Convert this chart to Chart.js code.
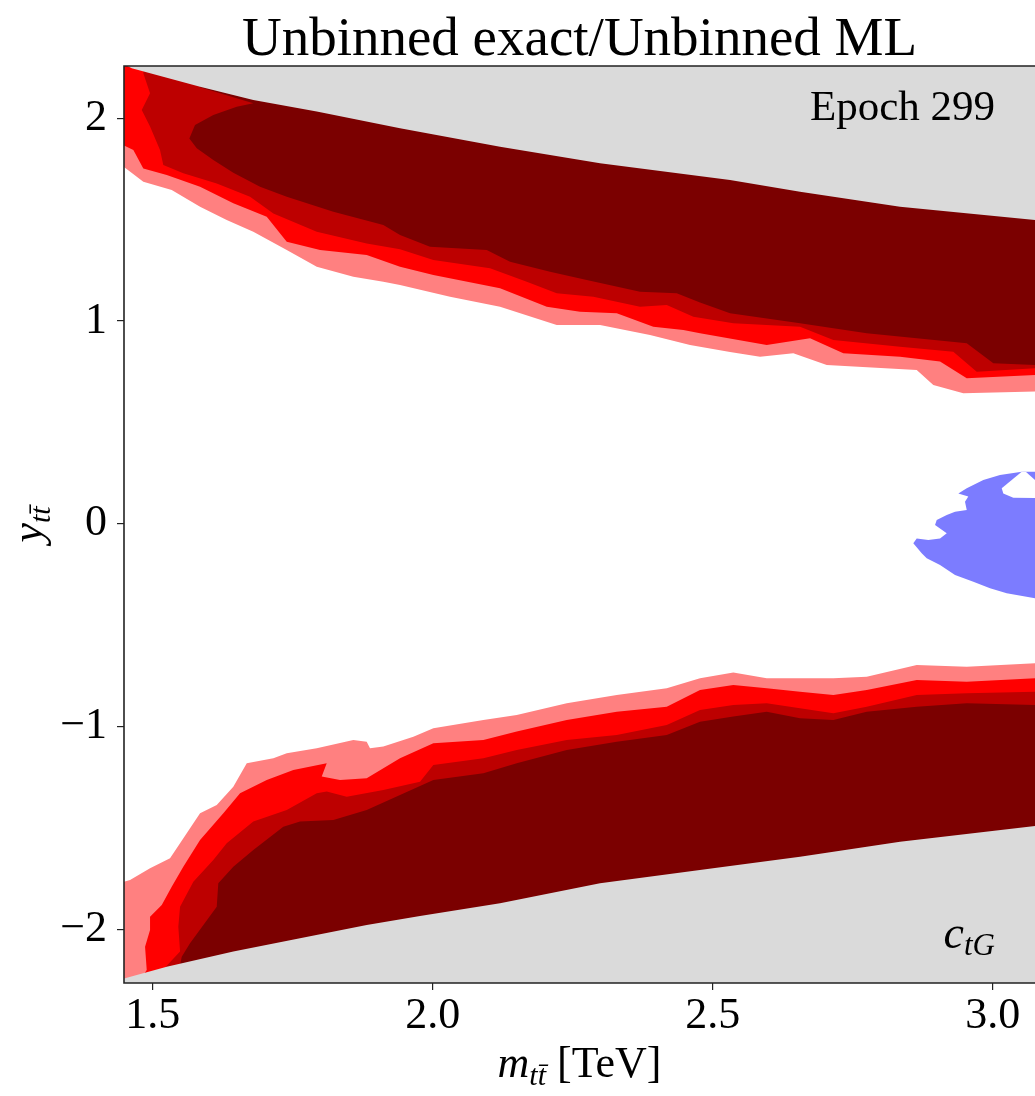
<!DOCTYPE html>
<html>
<head>
<meta charset="utf-8">
<title>Unbinned exact/Unbinned ML</title>
<script src="https://cdn.jsdelivr.net/npm/chart.js@4.4.1/dist/chart.umd.min.js"></script>
<style>
  html, body { margin: 0; padding: 0; background: #fff; overflow: hidden; }
  #wrap { width: 1035px; height: 1096px; }
</style>
</head>
<body>
<div id="wrap"><canvas id="chart" width="1035" height="1096"></canvas></div>
<script>
// axis ticks
const xTicks = [1.5, 2.0, 2.5, 3.0];
const yTicks = [-2, -1, 0, 1, 2];

// kinematic limits (grey outside)
const boundTopX = [1.452, 1.4625, 1.5845, 1.6796, 1.7929, 1.9416, 2.1202, 2.2988, 2.5309, 2.6559, 2.8345, 3.0755];
const boundTopY = [2.262, 2.247, 2.156, 2.090, 2.033, 1.951, 1.860, 1.778, 1.696, 1.638, 1.564, 1.498];
const boundBotX = [1.44, 1.4505, 1.525, 1.6439, 1.763, 1.8821, 1.9773, 2.1202, 2.2988, 2.5309, 2.6559, 2.8345, 3.0755];
const boundBotY = [-2.25, -2.242, -2.185, -2.110, -2.044, -1.979, -1.934, -1.872, -1.773, -1.688, -1.642, -1.568, -1.490];

// upper band: lower edge of each contour level
const pinkTopX = [1.44, 1.4832, 1.5339, 1.5845, 1.6321, 1.6796, 1.7393, 1.7929, 1.8582, 1.9118, 1.9416, 2.0309, 2.1202, 2.2214, 2.2988, 2.3880, 2.4595, 2.5309, 2.5845, 2.6439, 2.7036, 2.8643, 2.8939, 2.9475, 3.0755];
const pinkTopY = [1.778, 1.687, 1.646, 1.564, 1.498, 1.441, 1.350, 1.268, 1.219, 1.194, 1.178, 1.120, 1.071, 0.981, 0.981, 0.931, 0.882, 0.847, 0.824, 0.841, 0.783, 0.759, 0.685, 0.644, 0.652];
const redTopX = [1.44, 1.4654, 1.4832, 1.5250, 1.5845, 1.6439, 1.7036, 1.7393, 1.7988, 1.8821, 1.9416, 2.0011, 2.1202, 2.2036, 2.2630, 2.3286, 2.3939, 2.4475, 2.4773, 2.5964, 2.6738, 2.7332, 2.8345, 2.9059, 2.9536, 3.0755];
const redTopY = [1.877, 1.844, 1.753, 1.720, 1.663, 1.581, 1.515, 1.391, 1.350, 1.326, 1.268, 1.227, 1.162, 1.071, 1.046, 1.038, 0.972, 0.956, 0.940, 0.882, 0.915, 0.841, 0.824, 0.800, 0.718, 0.734];
const medTopX = [1.4832, 1.4952, 1.4804, 1.4952, 1.5130, 1.5189, 1.5546, 1.6143, 1.6738, 1.7154, 1.7929, 1.8821, 1.9416, 2.0011, 2.1023, 2.1679, 2.2214, 2.2868, 2.3702, 2.4179, 2.4654, 2.5368, 2.6559, 2.7154, 2.8345, 2.9296, 2.9714, 3.0755];
const medTopY = [2.222, 2.123, 2.041, 1.959, 1.844, 1.770, 1.729, 1.679, 1.613, 1.531, 1.441, 1.383, 1.354, 1.301, 1.260, 1.194, 1.137, 1.120, 1.071, 1.079, 1.021, 0.989, 0.972, 0.907, 0.873, 0.849, 0.750, 0.767];
const darkTopX = [1.5845, 1.6796, 1.6500, 1.6082, 1.5755, 1.5654, 1.5786, 1.6082, 1.6439, 1.6916, 1.7393, 1.8225, 1.9118, 1.9416, 1.9952, 2.0964, 2.1380, 2.2095, 2.2750, 2.3702, 2.4357, 2.4773, 2.5309, 2.6559, 2.7750, 2.9536, 3.0011, 3.0755];
const darkTopY = [2.153, 2.074, 2.057, 2.016, 1.967, 1.901, 1.852, 1.794, 1.732, 1.663, 1.613, 1.539, 1.474, 1.424, 1.367, 1.350, 1.293, 1.243, 1.202, 1.145, 1.137, 1.091, 1.038, 0.989, 0.940, 0.890, 0.792, 0.783];

// lower band: upper edge of each contour level
const pinkBotX = [1.44, 1.4595, 1.4952, 1.5309, 1.5488, 1.5845, 1.6143, 1.6439, 1.6679, 1.7154, 1.7393, 1.7929, 1.8582, 1.8821, 1.8880, 1.9118, 1.9654, 2.0011, 2.0904, 2.1500, 2.2393, 2.3286, 2.4179, 2.4773, 2.5368, 2.5964, 2.7154, 2.7750, 2.8643, 2.9536, 3.0755];
const pinkBotY = [-1.773, -1.757, -1.699, -1.650, -1.576, -1.428, -1.387, -1.297, -1.181, -1.157, -1.132, -1.107, -1.066, -1.075, -1.107, -1.099, -1.050, -1.009, -0.968, -0.943, -0.885, -0.844, -0.811, -0.762, -0.734, -0.762, -0.762, -0.754, -0.696, -0.705, -0.688];
const redBotX = [1.4714, 1.4893, 1.4863, 1.4952, 1.4952, 1.5161, 1.5339, 1.5546, 1.5845, 1.6261, 1.6559, 1.7036, 1.7511, 1.8107, 1.8018, 1.8345, 1.8821, 1.9416, 2.0011, 2.0904, 2.1500, 2.2393, 2.3286, 2.4179, 2.4773, 2.5368, 2.5964, 2.6559, 2.7154, 2.7750, 2.8643, 2.9536, 3.0755];
const redBotY = [-2.275, -2.201, -2.086, -2.003, -1.938, -1.880, -1.790, -1.691, -1.560, -1.428, -1.329, -1.264, -1.214, -1.181, -1.247, -1.264, -1.255, -1.157, -1.083, -1.066, -1.025, -0.968, -0.927, -0.902, -0.820, -0.795, -0.811, -0.828, -0.844, -0.820, -0.770, -0.779, -0.762];
const medBotX = [1.5130, 1.5237, 1.5488, 1.5457, 1.5488, 1.5725, 1.6082, 1.6321, 1.6796, 1.7393, 1.7929, 1.8107, 1.8464, 1.9118, 1.9773, 2.0011, 2.0904, 2.1500, 2.2393, 2.3286, 2.4179, 2.4773, 2.5368, 2.5964, 2.6559, 2.7154, 2.7750, 2.8643, 2.9536, 3.0755];
const medBotY = [-2.275, -2.184, -2.110, -1.987, -1.889, -1.765, -1.658, -1.576, -1.469, -1.412, -1.329, -1.321, -1.346, -1.313, -1.272, -1.190, -1.157, -1.116, -1.066, -1.042, -0.992, -0.918, -0.894, -0.885, -0.910, -0.935, -0.902, -0.844, -0.836, -0.828];
const darkBotX = [1.5416, 1.5518, 1.5666, 1.6143, 1.6171, 1.6439, 1.6796, 1.7332, 1.7630, 1.8225, 1.8821, 1.9416, 2.0011, 2.0904, 2.1500, 2.2393, 2.3286, 2.4179, 2.4773, 2.5368, 2.5964, 2.6559, 2.7154, 2.7750, 2.8643, 2.9536, 3.0755];
const darkBotY = [-2.275, -2.135, -2.069, -1.889, -1.773, -1.691, -1.609, -1.494, -1.469, -1.461, -1.412, -1.338, -1.264, -1.231, -1.181, -1.116, -1.075, -1.042, -0.976, -0.951, -0.927, -0.959, -0.968, -0.927, -0.902, -0.885, -0.894];

// blue patch around y = 0 and its hole
const blobX = [3.0518, 3.0130, 2.9832, 2.9536, 2.9386, 2.9564, 2.9505, 2.9536, 2.9327, 2.9179, 2.9000, 2.8970, 2.9179, 2.9059, 2.8850, 2.8643, 2.8582, 2.8732, 2.8821, 2.9059, 2.9327, 2.9654, 2.9952, 3.0250, 3.0755];
const blobY = [0.257, 0.241, 0.216, 0.175, 0.150, 0.134, 0.109, 0.068, 0.060, 0.043, 0.019, -0.006, -0.047, -0.072, -0.080, -0.072, -0.096, -0.145, -0.170, -0.203, -0.253, -0.286, -0.318, -0.343, -0.367];
const holeX = [3.0518, 3.0161, 3.0189, 3.0368, 3.10, 3.10, 3.0595];
const holeY = [0.257, 0.175, 0.150, 0.129, 0.126, 0.157, 0.255];
const dotX = [2.8166];
const dotY = [-0.224];

const X_FAR = 3.30, Y_TOP = 2.6, Y_BOT = -2.6;

const SERIF = "'Liberation Serif', 'DejaVu Serif', serif";
const GREY = '#dadada';
const DARK = '#7b0000';
const MED = '#bd0000';
const RED = '#ff0000';
const PINK = '#ff8080';
const BLUE = '#7c7cff';

function pts(xs, ys) {
    return xs.map((x, i) => ({x: x, y: ys[i]}));
}

// edge plus corners above it, closed into a polygon
function closeUp(xs, ys) {
    const p = pts(xs, ys);
    p.push({x: X_FAR, y: ys[ys.length - 1]}, {x: X_FAR, y: Y_TOP}, {x: xs[0], y: Y_TOP});
    return p;
}

// edge plus corners below it
function closeDown(xs, ys) {
    const p = pts(xs, ys);
    p.push({x: X_FAR, y: ys[ys.length - 1]}, {x: X_FAR, y: Y_BOT}, {x: xs[0], y: Y_BOT});
    return p;
}

function region(data, color, order) {
    return {
        data: data,
        showLine: true,
        fill: 'shape',
        backgroundColor: color,
        borderColor: color,
        borderWidth: 0,
        pointRadius: 0,
        order: order
    };
}

const blobPts = pts(blobX, blobY);
blobPts.push({x: X_FAR, y: blobY[blobY.length - 1]}, {x: X_FAR, y: blobY[0]});

// text parts drawn one after the other on the same baseline
function drawParts(ctx, parts, x, y, align) {
    let w = 0;
    parts.forEach(p => { ctx.font = p[1]; w += ctx.measureText(p[0]).width; });
    let cx = align === 'center' ? x - w / 2 : (align === 'right' ? x - w : x);
    parts.forEach(p => {
        ctx.font = p[1];
        ctx.fillText(p[0], cx, y + (p[2] || 0));
        cx += ctx.measureText(p[0]).width;
    });
}

const textPlugin = {
    id: 'texts',
    afterDraw(chart) {
        const ctx = chart.ctx;
        const a = chart.chartArea;
        ctx.save();
        // frame
        ctx.strokeStyle = '#222';
        ctx.lineWidth = 1.6;
        ctx.beginPath();
        ctx.moveTo(a.right + 2, a.top);
        ctx.lineTo(a.left, a.top);
        ctx.lineTo(a.left, a.bottom);
        ctx.lineTo(a.right + 2, a.bottom);
        ctx.stroke();

        ctx.fillStyle = '#000';
        ctx.textAlign = 'left';
        ctx.textBaseline = 'alphabetic';

        drawParts(ctx, [['Unbinned exact/Unbinned ML', '55px ' + SERIF]], (a.left + a.right) / 2, 55, 'center');
        drawParts(ctx, [['Epoch 299', '43px ' + SERIF]], 995, 120, 'right');
        drawParts(ctx, [['c', 'italic 46px ' + SERIF], ['tG', 'italic 31px ' + SERIF, 7]], 995, 948, 'right');

        drawParts(ctx, [
            ['m', 'italic 44px ' + SERIF],
            ['tt\u0304', 'italic 30px ' + SERIF, 8],
            [' [TeV]', '44px ' + SERIF]
        ], (a.left + a.right) / 2, 1077, 'center');

        ctx.translate(42, (a.top + a.bottom) / 2);
        ctx.rotate(-Math.PI / 2);
        drawParts(ctx, [
            ['y', 'italic 44px ' + SERIF],
            ['tt\u0304', 'italic 30px ' + SERIF, 8]
        ], 0, 0, 'center');
        ctx.restore();
    }
};

const tickFont = {family: SERIF, size: 44};

new Chart(document.getElementById('chart'), {
    type: 'scatter',
    data: {
        datasets: [
            region(pts(dotX, dotY), BLUE, 0),
            region(pts(holeX, holeY), '#ffffff', 1),
            region(blobPts, BLUE, 2),
            region(closeUp(boundTopX, boundTopY), GREY, 3),
            region(closeDown(boundBotX, boundBotY), GREY, 3),
            region(closeUp(darkTopX, darkTopY), DARK, 4),
            region(closeDown(darkBotX, darkBotY), DARK, 4),
            region(closeUp(medTopX, medTopY), MED, 5),
            region(closeDown(medBotX, medBotY), MED, 5),
            region(closeUp(redTopX, redTopY), RED, 6),
            region(closeDown(redBotX, redBotY), RED, 6),
            region(closeUp(pinkTopX, pinkTopY), PINK, 7),
            region(closeDown(pinkBotX, pinkBotY), PINK, 7)
        ]
    },
    options: {
        responsive: false,
        animation: false,
        devicePixelRatio: 1,
        layout: {padding: {top: 66, left: 0, right: 0, bottom: 0}},
        plugins: {legend: {display: false}, tooltip: {enabled: false}},
        scales: {
            x: {
                type: 'linear',
                min: 1.4487,
                max: 3.0755,
                afterBuildTicks: s => { s.ticks = xTicks.map(v => ({value: v})); },
                afterFit: s => { s.height = 113; },
                grid: {drawOnChartArea: false, tickLength: 7, color: '#222', lineWidth: 1.2},
                border: {display: false},
                ticks: {font: tickFont, color: '#000', padding: 0, maxRotation: 0, autoSkip: false,
                        callback: v => v.toFixed(1)}
            },
            y: {
                type: 'linear',
                min: -2.265,
                max: 2.258,
                afterBuildTicks: s => { s.ticks = yTicks.map(v => ({value: v})); },
                afterFit: s => { s.width = 124; },
                grid: {drawOnChartArea: false, tickLength: 7, color: '#222', lineWidth: 1.2},
                border: {display: false},
                ticks: {font: tickFont, color: '#000', padding: 10, autoSkip: false,
                        callback: v => v < 0 ? '\u2212' + Math.abs(v) : String(v)}
            }
        }
    },
    plugins: [textPlugin]
});
</script>
</body>
</html>
